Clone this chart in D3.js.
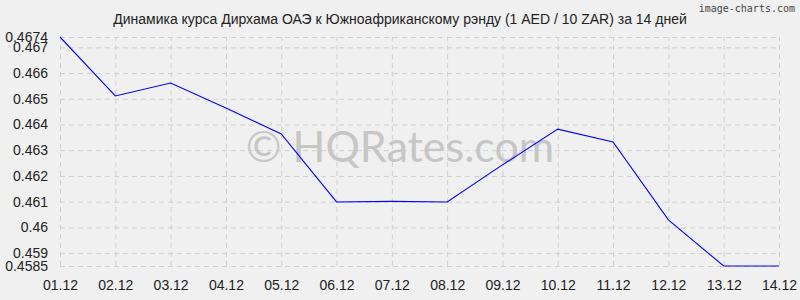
<!DOCTYPE html>
<html>
<head>
<meta charset="utf-8">
<script src="https://cdn.jsdelivr.net/npm/d3@7"></script>
<style>
  body { margin: 0; background: #f0f0f0; }
  svg { display: block; }
</style>
</head>
<body>
<div id="chart"></div>
<script>
var dates = ['01.12', '02.12', '03.12', '04.12', '05.12', '06.12', '07.12',
             '08.12', '09.12', '10.12', '11.12', '12.12', '13.12', '14.12'];
var rates = [0.4674, 0.46511, 0.46561, 0.46464, 0.46363, 0.46099, 0.46101,
             0.46099, 0.46243, 0.46382, 0.46332, 0.46029, 0.4585, 0.4585];
var yTicks = [0.4585, 0.459, 0.46, 0.461, 0.462, 0.463, 0.464, 0.465, 0.466, 0.467, 0.4674];

var width = 800, height = 300;
var plotLeft = 60, plotRight = 779, plotTop = 37, plotBottom = 266;

var svg = d3.select('#chart').append('svg')
    .attr('width', width)
    .attr('height', height)
    .style('font-family', '"Liberation Sans", Arial, sans-serif');

svg.append('rect')
    .attr('width', width)
    .attr('height', height)
    .style('fill', '#f0f0f0');

var x = d3.scalePoint()
    .domain(dates)
    .range([plotLeft, plotRight]);

var y = d3.scaleLinear()
    .domain([0.4585, 0.4674])
    .range([plotBottom, plotTop]);

// grid
svg.append('g')
    .attr('transform', 'translate(0,' + plotBottom + ')')
    .call(d3.axisBottom(x).tickSize(-(plotBottom - plotTop)).tickFormat(''))
    .call(function(g) {
      g.select('.domain').remove();
      g.selectAll('line').style('stroke', '#d0d0d0').style('stroke-dasharray', '5,4');
    });

svg.append('g')
    .attr('transform', 'translate(' + plotLeft + ',0)')
    .call(d3.axisLeft(y).tickValues(yTicks).tickSize(-(plotRight - plotLeft)).tickFormat(''))
    .call(function(g) {
      g.select('.domain').remove();
      g.selectAll('line').style('stroke', '#d0d0d0').style('stroke-dasharray', '5,4');
    });

// watermark
svg.append('text')
    .attr('x', 400)
    .attr('y', 162)
    .attr('text-anchor', 'middle')
    .style('font-size', '43px')
    .style('font-family', 'Lato, sans-serif')
    .style('fill', '#c6c6c6')
    .text('\u00a9 HQRates.com');

// axis labels
svg.append('g')
    .attr('transform', 'translate(' + plotLeft + ',0)')
    .call(d3.axisLeft(y).tickValues(yTicks).tickSize(0).tickPadding(12).tickFormat(function(d) { return String(d); }))
    .call(function(g) {
      g.select('.domain').remove();
      g.selectAll('text').style('font-size', '14px').style('fill', '#222')
        .style('font-family', '"Liberation Sans", Arial, sans-serif');
    });

svg.append('g')
    .attr('transform', 'translate(0,' + plotBottom + ')')
    .call(d3.axisBottom(x).tickSize(0).tickPadding(14))
    .call(function(g) {
      g.select('.domain').remove();
      g.selectAll('text').style('font-size', '14px').style('fill', '#222')
        .style('font-family', '"Liberation Sans", Arial, sans-serif');
    });

// line
var line = d3.line()
    .x(function(d, i) { return x(dates[i]); })
    .y(function(d) { return y(d); });

svg.append('path')
    .datum(rates)
    .attr('d', line)
    .style('fill', 'none')
    .style('stroke', '#0000ff')
    .style('stroke-width', 1.1);

// title
svg.append('text')
    .attr('x', 400)
    .attr('y', 24)
    .attr('text-anchor', 'middle')
    .style('font-size', '14px')
    .style('fill', '#222')
    .text('Динамика курса Дирхама ОАЭ к Южноафриканскому рэнду (1 AED / 10 ZAR) за 14 дней');

svg.append('text')
    .attr('x', 795)
    .attr('y', 12)
    .attr('text-anchor', 'end')
    .style('font-size', '10px')
    .style('font-family', '"DejaVu Sans Mono", monospace')
    .style('fill', '#444')
    .text('image-charts.com');
</script>
</body>
</html>
